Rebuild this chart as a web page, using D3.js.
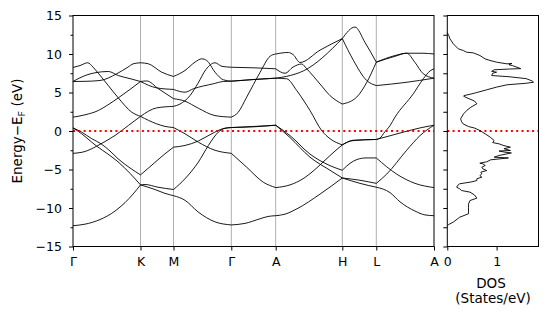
<!DOCTYPE html>
<html>
<head>
<meta charset="utf-8">
<script src="https://cdn.jsdelivr.net/npm/d3@7"></script>
<style>
  body { margin: 0; background: #fff; }
  svg text { font-family: "DejaVu Sans", sans-serif; fill: #000; }
</style>
</head>
<body>
<svg id="chart" width="547" height="315"></svg>
<script>
// high-symmetry path
const kLabels = ['Γ', 'K', 'M', 'Γ', 'A', 'H', 'L', 'A'];
const kTicks = [0, 0.675, 1.005, 1.583, 2.027, 2.693, 3.033, 3.61];
const yTicks = [-15, -10, -5, 0, 5, 10, 15];

// bands, [k, E-Ef]
const band1 = [[0,-12.3],[0.12,-12.1],[0.27,-11.5],[0.42,-10.4],[0.52,-9.3],[0.6,-8.2],[0.675,-7.0],
  [0.82,-7.6],[0.92,-8.1],[1.005,-8.4],[1.12,-9.0],[1.25,-10.5],[1.42,-11.8],[1.583,-12.2],
  [1.72,-12.0],[1.87,-11.4],[1.95,-11.1],[2.027,-11.0],[2.12,-10.8],[2.24,-10.1],[2.47,-8.2],[2.693,-6.1],
  [2.87,-6.8],[3.033,-7.3],[3.17,-8.0],[3.27,-9.2],[3.42,-10.4],[3.52,-10.9],[3.61,-11.0]];
const band2 = [[0,0.4],[0.087,-0.36],[0.187,-1.45],[0.237,-1.97],[0.35,-3.0],[0.45,-4.0],[0.57,-5.5],[0.675,-7.0],
  [0.72,-6.95],[0.85,-7.3],[1.005,-7.6],[1.12,-6.2],[1.253,-4.05],[1.353,-1.9],[1.453,-0.15],[1.52,0.36],[1.583,0.45],
  [1.82,0.6],[2.027,0.75],[2.17,-0.85],[2.37,-3.4],[2.57,-5.1],[2.693,-6.1],
  [2.87,-6.4],[3.033,-6.8],[3.137,-5.6],[3.337,-2.5],[3.47,-0.6],[3.61,0.75]];
const band3 = [[0,0.4],[0.087,-0.15],[0.187,-1.0],[0.28,-1.66],[0.37,-2.6],[0.45,-3.6],[0.57,-4.8],[0.675,-5.7],
  [0.8,-4.3],[0.92,-2.96],[1.005,-2.1],[1.12,-1.88],[1.253,-1.3],[1.387,-0.36],[1.5,0.3],[1.583,0.45],
  [1.82,0.55],[2.027,0.75],[2.17,-0.6],[2.37,-3.0],[2.57,-4.5],[2.693,-5.1],
  [2.77,-4.2],[2.84,-3.7],[2.93,-3.5],[3.033,-3.5],[3.237,-5.6],[3.42,-6.8],[3.61,-7.35]];
const band4 = [[0,-2.9],[0.12,-2.66],[0.237,-1.97],[0.28,-1.66],[0.42,-0.58],[0.553,0.71],[0.675,1.9],
  [0.837,3.0],[1.005,3.2],[1.07,3.5],[1.17,4.6],[1.25,6.2],[1.33,8.0],[1.42,8.86],[1.49,8.4],[1.583,8.28],
  [1.82,8.2],[2.027,8.08],[2.12,7.5],[2.2,8.3],[2.287,8.7],[2.337,8.08],[2.47,6.1],[2.57,4.6],[2.693,3.5],
  [2.837,4.4],[2.937,6.3],[3.033,8.94],[3.22,9.7],[3.337,10.1],[3.42,8.9],[3.503,7.43],[3.61,6.86]];
const band5 = [[0,8.25],[0.07,8.5],[0.147,8.86],[0.2,8.3],[0.253,7.5],[0.353,5.9],[0.453,4.3],[0.587,2.45],[0.675,1.9],
  [0.837,0.93],[0.92,0.6],[1.005,0.45],[1.12,-0.36],[1.253,-1.45],[1.42,-2.5],[1.583,-2.9],
  [1.737,-4.7],[1.903,-6.65],[2.027,-7.35],[2.17,-7.0],[2.3,-6.2],[2.42,-5.0],[2.52,-3.8],[2.62,-2.6],[2.693,-1.8],
  [2.8,-1.2],[3.033,-1.1],[3.08,-0.8],[3.103,-0.37],[3.17,0.7],[3.22,1.8],[3.403,4.83],[3.503,6.78],[3.57,7.8],[3.61,8.08]];
const band6 = [[0,1.8],[0.12,2.1],[0.253,2.66],[0.35,3.4],[0.453,4.3],[0.57,5.4],[0.675,6.43],
  [0.737,6.5],[0.853,5.5],[1.005,4.2],[1.12,3.87],[1.253,2.96],[1.42,2.0],[1.583,1.8],
  [1.65,2.4],[1.737,4.4],[1.87,7.6],[1.97,9.7],[2.027,10.0],[2.153,10.2],[2.203,9.9],[2.27,8.9],[2.47,10.5],[2.693,12.0],
  [2.82,13.5],[2.92,11.5],[3.033,8.94],[3.22,9.8],[3.337,10.1],[3.5,10.1],[3.61,10.0]];
const band7 = [[0,6.43],[0.12,7.2],[0.22,7.56],[0.353,7.73],[0.453,7.2],[0.57,6.8],[0.675,6.43],
  [0.837,5.6],[1.005,5.4],[1.12,5.04],[1.203,5.48],[1.403,6.13],[1.503,6.43],[1.583,6.47],
  [1.82,6.7],[2.027,6.86],[2.137,7.1],[2.303,7.8],[2.693,12.0],
  [2.803,9.2],[2.937,6.56],[3.033,5.9],[3.32,6.3],[3.61,6.86]];
const band8 = [[0,6.43],[0.12,6.45],[0.27,6.56],[0.437,7.43],[0.55,8.3],[0.603,8.73],[0.675,8.86],
  [0.753,8.73],[0.887,7.64],[1.005,7.08],[1.12,7.86],[1.22,8.94],[1.287,9.37],[1.337,9.16],[1.42,7.64],[1.503,6.65],[1.583,6.47],
  [1.82,6.7],[2.027,6.86],[2.137,6.78],[2.237,5.26],[2.37,2.66],[2.49,0],[2.57,-1.0],[2.693,-1.8],
  [2.8,-1.25],[3.033,-1.1],[3.303,-0.15],[3.47,0.4],[3.61,0.75]];
const bands = [band1, band2, band3, band4, band5, band6, band7, band8];

// density of states, states/eV
const dosE = [12.75,12.4,11.97,11.32,10.67,10.45,10.23,10.15,9.8,9.37,9.16,8.94,8.72,8.78,8.6,8.5,8.1,8.05,7.95,7.75,7.64,7.5,7.2,7.05,6.8,6.5,6.34,6.2,6.0,5.7,5.35,5.0,4.83,4.6,4.52,4.3,3.9,3.53,3.1,2.7,2.23,1.58,1.2,0.93,0.58,0.37,0.06,-0.37,-0.8,-1.23,-1.5,-1.67,-1.9,-2.1,-2.3,-2.53,-2.6,-2.75,-2.85,-3.18,-3.4,-3.5,-3.74,-4.0,-4.18,-4.26,-4.48,-4.7,-4.91,-5.13,-5.35,-5.56,-5.8,-6.0,-6.2,-6.43,-6.6,-6.86,-7.0,-7.3,-7.5,-7.73,-7.94,-8.3,-8.72,-9.03,-9.5,-9.9,-10.4,-10.75,-11.2,-11.84,-12.14,-12.3];
const dosV = [0,0.03,0.054,0.122,0.223,0.325,0.392,0.527,0.663,0.764,0.866,1.0,1.21,1.31,1.25,1.32,1.49,1.26,0.95,0.9,1.0,0.92,0.9,1.25,1.6,1.72,1.75,1.6,1.21,1.0,0.8,0.6,0.5,0.34,0.33,0.4,0.55,0.6,0.48,0.4,0.33,0.27,0.29,0.32,0.43,0.56,0.66,0.77,0.87,0.95,0.92,1.05,1.15,1.28,1.15,1.28,1.05,1.17,1.3,1.05,0.95,1.24,0.88,0.8,0.66,0.72,0.77,0.7,0.72,0.8,0.68,0.7,0.66,0.7,0.6,0.6,0.5,0.25,0.22,0.19,0.25,0.29,0.46,0.55,0.6,0.46,0.43,0.43,0.43,0.43,0.25,0.12,0.03,0];
const dosTicks = [0, 1];

const svg = d3.select('#chart');

const x = d3.scaleLinear().domain([0, 3.61]).range([73, 434]);
const y = d3.scaleLinear().domain([-15, 15]).range([246.5, 15.5]);
const xd = d3.scaleLinear().domain([0, 1.85]).range([447.3, 538.5]);

svg.append('clipPath').attr('id', 'clipMain')
  .append('rect').attr('x', 73).attr('y', 15.5).attr('width', 361).attr('height', 231);

// vertical lines at the high-symmetry points
svg.append('g').selectAll('line')
  .data(kTicks.slice(1, -1))
  .join('line')
  .attr('x1', d => x(d)).attr('x2', d => x(d))
  .attr('y1', y(15)).attr('y2', y(-15))
  .attr('stroke', '#b0b0b0').attr('stroke-width', 1);

// draw each band piecewise between high-symmetry points so kinks stay sharp
const line = d3.line().x(d => x(d[0])).y(d => y(d[1])).curve(d3.curveMonotoneX);
const gBands = svg.append('g').attr('clip-path', 'url(#clipMain)');
bands.forEach(b => {
  for (let i = 0; i < kTicks.length - 1; i++) {
    const seg = b.filter(p => p[0] >= kTicks[i] - 1e-6 && p[0] <= kTicks[i + 1] + 1e-6);
    gBands.append('path')
      .attr('d', line(seg))
      .attr('fill', 'none')
      .attr('stroke', '#000')
      .attr('stroke-width', 0.9);
  }
});

// fermi level
[[73, 434], [447.3, 538.5]].forEach(r => {
  svg.append('line')
    .attr('x1', r[0]).attr('x2', r[1])
    .attr('y1', y(0)).attr('y2', y(0))
    .attr('stroke', 'red').attr('stroke-width', 2)
    .attr('stroke-dasharray', '2,3.3');
});

// dos curve
const dosLine = d3.line().x(d => xd(d[1])).y(d => y(d[0]));
svg.append('path')
  .attr('d', dosLine(d3.zip(dosE, dosV)))
  .attr('fill', 'none').attr('stroke', '#000').attr('stroke-width', 0.9);

// frames
[[73, 434], [447.3, 538.5]].forEach(r => {
  svg.append('rect')
    .attr('x', r[0]).attr('y', y(15))
    .attr('width', r[1] - r[0]).attr('height', y(-15) - y(15))
    .attr('fill', 'none').attr('stroke', '#000').attr('stroke-width', 1);
});

function styleAxis(g) {
  g.select('.domain').remove();
  g.selectAll('.tick line').attr('stroke', '#000').attr('stroke-width', 1);
  g.selectAll('.tick text').attr('font-size', 12.5);
}

// main y axis
svg.append('g').attr('transform', 'translate(73,0)')
  .call(d3.axisLeft(y).tickValues(yTicks).tickSize(4).tickPadding(7))
  .call(styleAxis);
svg.append('g').attr('transform', 'translate(73,0)')
  .call(d3.axisLeft(y).tickValues(d3.range(-12.5, 15, 5)).tickSize(2.5).tickFormat(''))
  .call(styleAxis);

// main x axis
svg.append('g').attr('transform', `translate(0,${y(-15)})`)
  .call(d3.axisBottom(x).tickValues(kTicks).tickFormat((d, i) => kLabels[i]).tickSize(4).tickPadding(7))
  .call(styleAxis);

// dos axes
svg.append('g').attr('transform', 'translate(447.3,0)')
  .call(d3.axisLeft(y).tickValues(d3.range(-15, 15.1, 2.5)).tickSize(4).tickFormat(''))
  .call(styleAxis);
svg.append('g').attr('transform', `translate(0,${y(-15)})`)
  .call(d3.axisBottom(xd).tickValues(dosTicks).tickFormat(d3.format('d')).tickSize(4).tickPadding(7))
  .call(styleAxis);

// labels
const yl = svg.append('text')
  .attr('transform', `translate(22,${y(0)}) rotate(-90)`)
  .attr('text-anchor', 'middle')
  .attr('font-size', 13.5);
yl.append('tspan').text('Energy−E');
yl.append('tspan').attr('font-size', 9.5).attr('dy', 3).text('F');
yl.append('tspan').attr('dy', -3).text(' (eV)');

svg.append('text').attr('x', 491).attr('y', 288).attr('text-anchor', 'middle')
  .attr('font-size', 13.5).text('DOS');
svg.append('text').attr('x', 493).attr('y', 303).attr('text-anchor', 'middle')
  .attr('font-size', 13.5).text('(States/eV)');
</script>
</body>
</html>
